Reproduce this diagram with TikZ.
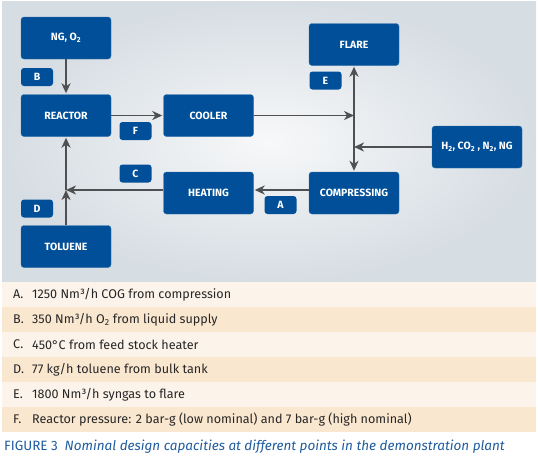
\documentclass[tikz,border=0pt]{standalone}
\usepackage{fontspec}
\setsansfont{Fira Sans}
\renewcommand{\familydefault}{\sfdefault}
\usetikzlibrary{arrows.meta}

\definecolor{boxblue}{HTML}{004F98}
\definecolor{linegray}{HTML}{4F5052}
\definecolor{rowlight}{HTML}{FCF4EA}
\definecolor{rowdark}{HTML}{FAE7CF}
\definecolor{capblue}{HTML}{1F5C9E}
\definecolor{bgouter}{HTML}{D6DDE3}
\definecolor{bginner}{HTML}{F7F8F9}

\tikzset{
  unit/.style={draw=boxblue!80!white, fill=boxblue, rounded corners=3pt,
    minimum width=90pt, minimum height=42pt, text=white, inner sep=1pt,
    font=\fontsize{10.5}{12}\selectfont\bfseries},
  tag/.style={fill=boxblue, rounded corners=3pt, minimum width=32pt,
    minimum height=18pt, text=white, inner sep=0pt,
    font=\fontsize{10.5}{12}\selectfont\bfseries},
  flow/.style={draw=linegray, line width=1.9pt, shorten >=1pt},
  rowtext/.style={anchor=west, inner sep=0pt, text=black!85,
    font=\fontsize{12.6}{14}\selectfont}
}

\begin{document}
\begin{tikzpicture}[x=1pt, y=-1pt, >={Stealth[length=10pt, width=9pt, inset=3pt]}]
  \useasboundingbox (0,0) rectangle (538,458);
  % background of the plant scheme
  \shade[inner color=bginner, outer color=bgouter] (2,1) rectangle (536,282);

  % process units
  \node[unit] (ng)       at (66,38)     {NG, O\textsubscript{2}};
  \node[unit] (reactor)  at (66,115.5)  {REACTOR};
  \node[unit] (toluene)  at (66,246.5)  {TOLUENE};
  \node[unit] (cooler)   at (208.5,115.5) {COOLER};
  \node[unit] (heating)  at (208.5,193) {HEATING};
  \node[unit] (flare)    at (354,44.5)  {FLARE};
  \node[unit] (compress) at (354,193)   {COMPRESSING};
  \node[unit] (gases)    at (477,147)   {H\textsubscript{2}, CO\textsubscript{2} , N\textsubscript{2}, NG};

  % point tags
  \node[tag] (tagA) at (280.5,205)  {A};
  \node[tag] (tagB) at (37,77)      {B};
  \node[tag] (tagC) at (135.5,173.5) {C};
  \node[tag] (tagD) at (37,208.5)   {D};
  \node[tag] (tagE) at (325.5,80.5) {E};
  \node[tag] (tagF) at (135.5,131)  {F};

  % junctions
  \coordinate (jcool) at (flare.south |- cooler.east);
  \coordinate (jgas)  at (flare.south |- gases.west);
  \coordinate (jheat) at ([yshift=3pt]reactor.south |- heating.west);

  % flows
  \draw[flow,->] (ng) -- (reactor);
  \draw[flow,->] (reactor) -- (cooler);
  \draw[flow,->,shorten >=0pt] (cooler) -- (jcool);
  \draw[flow,->,shorten >=0pt] (gases) -- (jgas);
  \draw[flow,<->,shorten <=1pt] (flare) -- (compress);
  \draw[flow,->] ([yshift=3pt]compress.west) -- ([yshift=3pt]heating.east);
  \draw[flow,->,shorten >=0pt] ([yshift=3pt]heating.west) -- (jheat);
  \draw[flow,->,shorten >=0pt] (toluene) -- (jheat);
  \draw[flow,->] (jheat) -- (reactor);

  % table of capacities
  \foreach \y/\c in {282/rowlight,307/rowdark,332/rowlight,357/rowdark,382/rowlight,407/rowdark}
    \fill[\c] (2,\y) rectangle (536,\y+25);
  \foreach \k/\t [count=\i] in {
    A./{1250 Nm³/h COG from compression},
    B./{350 Nm³/h O\textsubscript{2} from liquid supply},
    C./{450°C from feed stock heater},
    D./{77 kg/h toluene from bulk tank},
    E./{1800 Nm³/h syngas to flare},
    F./{Reactor pressure: 2 bar-g (low nominal) and 7 bar-g (high nominal)}}
  {
    \node[rowtext] (key\i) at (13,269.5+25*\i) {\k};
    \node[rowtext] (row\i) at (32,269.5+25*\i) {\t};
  }

  % caption
  \node[anchor=west, inner sep=0pt, text=capblue, font=\fontsize{13.5}{15}\selectfont]
    (caption) at (4,447) {FIGURE 3\enspace\itshape Nominal design capacities at different points in the demonstration plant};
\end{tikzpicture}
\end{document}
